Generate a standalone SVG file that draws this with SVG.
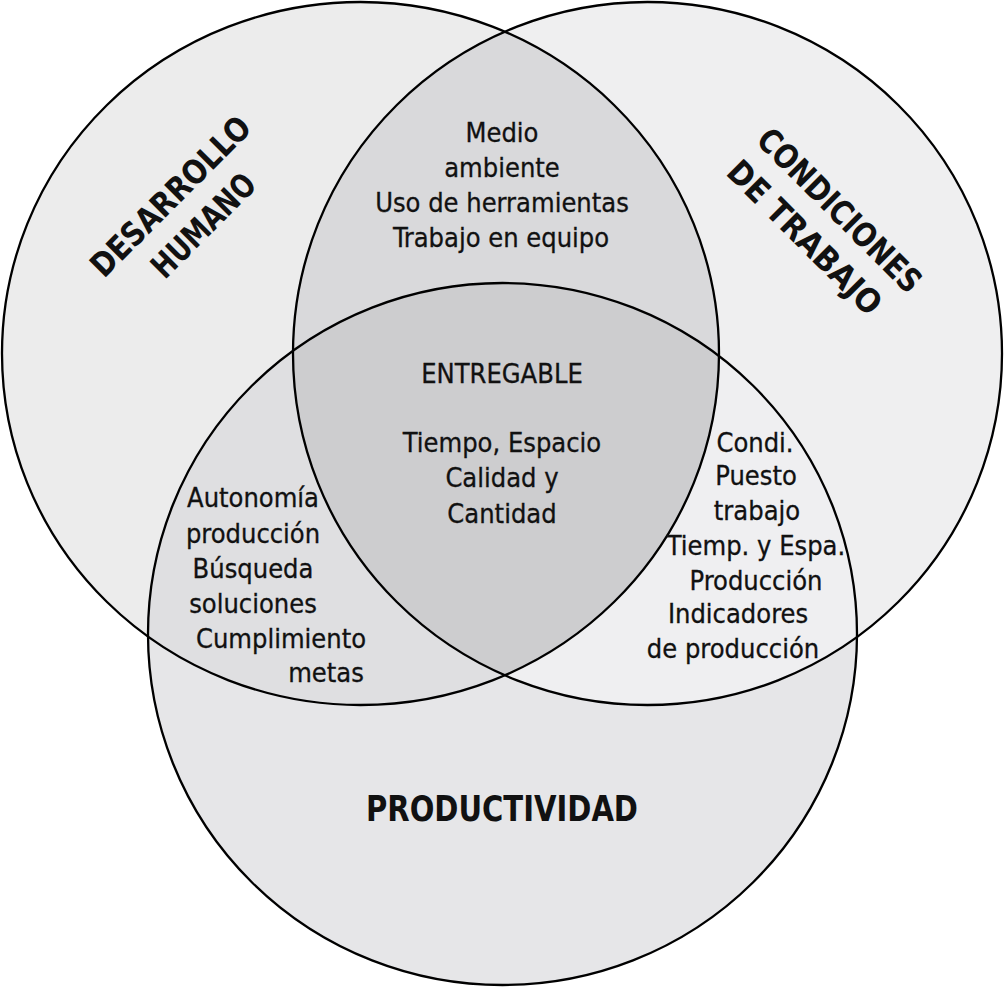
<svg xmlns="http://www.w3.org/2000/svg" width="1004" height="987" viewBox="0 0 1004 987">
  <style>
    .ring { fill: none; stroke: #000; stroke-width: 2.3; }
    .t { font-family: "DejaVu Sans Condensed", "DejaVu Sans", "Liberation Sans", sans-serif; font-size: 27px; fill: #111; stroke: #111; stroke-width: 0.3; text-anchor: middle; }
    .title { font-family: "DejaVu Sans Condensed", "DejaVu Sans", "Liberation Sans", sans-serif; font-weight: bold; font-size: 33px; fill: #111; text-anchor: middle; }
  </style>
  <defs>
    <ellipse id="eL" cx="360.5" cy="353.5" rx="358.5" ry="351.5"/>
    <ellipse id="eR" cx="647.5" cy="353.5" rx="354.5" ry="351.5"/>
    <ellipse id="eB" cx="502.5" cy="634" rx="354.5" ry="351"/>
    <clipPath id="cL"><use href="#eL"/></clipPath>
    <clipPath id="cR"><use href="#eR"/></clipPath>
  </defs>
  <rect x="0" y="0" width="1004" height="987" fill="#ffffff"/>

  <g id="region-fills">
    <use href="#eL" fill="#ececec"/>
    <use href="#eR" fill="#efeff0"/>
    <use href="#eB" fill="#e6e6e8"/>
    <use href="#eR" fill="#d9d9db" clip-path="url(#cL)"/>
    <use href="#eB" fill="#dfdfe1" clip-path="url(#cL)"/>
    <use href="#eB" fill="#efeff1" clip-path="url(#cR)"/>
    <g clip-path="url(#cL)">
      <use href="#eB" fill="#cdcdcf" clip-path="url(#cR)"/>
    </g>
  </g>

  <g id="connectors"></g>

  <g id="node-desarrollo-humano">
    <use href="#eL" class="ring"/>
    <text class="title" x="178.5" y="204.5" transform="rotate(-45 178.5 204.5)" textLength="211" lengthAdjust="spacingAndGlyphs">DESARROLLO</text>
    <text class="title" x="211.5" y="233.5" transform="rotate(-45 211.5 233.5)" textLength="132" lengthAdjust="spacingAndGlyphs">HUMANO</text>
  </g>

  <g id="node-condiciones-trabajo">
    <use href="#eR" class="ring"/>
    <text class="title" x="831.5" y="218.5" transform="rotate(45 831.5 218.5)" textLength="217" lengthAdjust="spacingAndGlyphs">CONDICIONES</text>
    <text class="title" x="796.5" y="245.5" transform="rotate(45 796.5 245.5)" textLength="203" lengthAdjust="spacingAndGlyphs">DE TRABAJO</text>
  </g>

  <g id="node-productividad">
    <use href="#eB" class="ring"/>
    <text class="title" x="502" y="821" style="font-size:35px" textLength="272" lengthAdjust="spacingAndGlyphs">PRODUCTIVIDAD</text>
  </g>

  <g id="node-desarrollo-condiciones">
    <text class="t" x="502" y="142">Medio</text>
    <text class="t" x="502" y="177">ambiente</text>
    <text class="t" x="502" y="212">Uso de herramientas</text>
    <text class="t" x="501" y="247">Trabajo en equipo</text>
  </g>

  <g id="node-entregable">
    <text class="t" x="502" y="383">ENTREGABLE</text>
    <text class="t" x="502" y="452">Tiempo, Espacio</text>
    <text class="t" x="502" y="487">Calidad y</text>
    <text class="t" x="502" y="523">Cantidad</text>
  </g>

  <g id="node-desarrollo-productividad">
    <text class="t" x="253" y="507">Autonomía</text>
    <text class="t" x="253" y="543">producción</text>
    <text class="t" x="253" y="578">Búsqueda</text>
    <text class="t" x="253" y="613">soluciones</text>
    <text class="t" x="281" y="648">Cumplimiento</text>
    <text class="t" x="326" y="682">metas</text>
  </g>

  <g id="node-condiciones-productividad">
    <text class="t" x="755" y="452">Condi.</text>
    <text class="t" x="756" y="485">Puesto</text>
    <text class="t" x="757" y="520">trabajo</text>
    <text class="t" x="756" y="555">Tiemp. y Espa.</text>
    <text class="t" x="756" y="590">Producción</text>
    <text class="t" x="738" y="623">Indicadores</text>
    <text class="t" x="733" y="658">de producción</text>
  </g>
</svg>
